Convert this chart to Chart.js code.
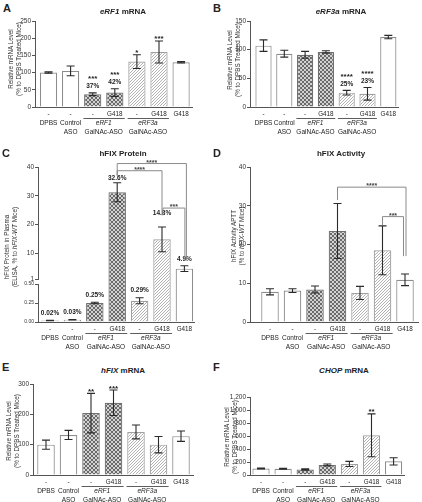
<!DOCTYPE html>
<html>
<head>
<meta charset="utf-8">
<title>eRF1 / eRF3a knockdown and hFIX readthrough</title>
<script src="https://cdn.jsdelivr.net/npm/chart.js@4.4.1/dist/chart.umd.min.js"></script>
<style>
  body { margin: 0; background: #fff; }
  #fig { position: relative; width: 422px; height: 502px; overflow: hidden; font-family: "Liberation Sans", Arial, sans-serif; color: #222; }
  #fig canvas { position: absolute; }
  .letter { position: absolute; font-weight: bold; font-size: 11px; line-height: 11px; }
  .title { position: absolute; font-weight: bold; font-size: 8px; white-space: nowrap; transform: translate(-50%, -50%); }
  .ytitle { position: absolute; font-size: 6.3px; line-height: 8.2px; white-space: nowrap; text-align: center; color: #333; transform: translate(-50%, -50%) rotate(-90deg); }
</style>
</head>
<body>
<div id="fig">
  <canvas id="cA"></canvas>
  <canvas id="cB"></canvas>
  <canvas id="cC"></canvas>
  <canvas id="cD"></canvas>
  <canvas id="cE"></canvas>
  <canvas id="cF"></canvas>

  <div class="letter" style="left:3px;top:3px">A</div>
  <div class="letter" style="left:213px;top:3px">B</div>
  <div class="letter" style="left:2px;top:148px">C</div>
  <div class="letter" style="left:213px;top:148px">D</div>
  <div class="letter" style="left:2px;top:362px">E</div>
  <div class="letter" style="left:213px;top:362px">F</div>

  <div class="title" style="left:123px;top:11px"><i>eRF1</i> mRNA</div>
  <div class="title" style="left:341px;top:11px"><i>eRF3a</i> mRNA</div>
  <div class="title" style="left:123px;top:153px">hFIX Protein</div>
  <div class="title" style="left:341px;top:153px">hFIX Activity</div>
  <div class="title" style="left:123px;top:370px"><i>hFIX</i> mRNA</div>
  <div class="title" style="left:344px;top:370px"><i>CHOP</i> mRNA</div>

  <div class="ytitle" style="left:15px;top:59px">Relative mRNA Level<br>(% to DPBS Treated Mice)</div>
  <div class="ytitle" style="left:233.5px;top:60px">Relative mRNA Level<br>(% to DPBS Treated Mice)</div>
  <div class="ytitle" style="left:11px;top:247px">hFIX Protein in Plasma<br>(ELISA, % to <i>hFIX-WT</i> Mice)</div>
  <div class="ytitle" style="left:238px;top:236px">hFIX Activity APTT<br>(% to <i>hFIX-WT</i> Mice)</div>
  <div class="ytitle" style="left:12.5px;top:431px">Relative mRNA Level<br>(% to DPBS Treated Mice)</div>
  <div class="ytitle" style="left:230.5px;top:437px">Relative mRNA Level<br>(% to DPBS Treated Mice)</div>
</div>

<script>
// treatment groups, one bar each
const barLabels = ["DPBS", "Control ASO", "eRF1 GalNAc-ASO", "eRF1 GalNAc-ASO + G418",
  "eRF3a GalNAc-ASO", "eRF3a GalNAc-ASO + G418", "G418"];
const g418Row = ["-", "-", "-", "G418", "-", "G418", "G418"];
const barKind = ["plain", "plain", "eRF1", "eRF1", "eRF3a", "eRF3a", "plain"];

// A - eRF1 mRNA
const eRF1Mean = [100, 105, 37, 42, 132, 160, 130];
const eRF1Err = [2, 14, 4, 11, 20, 32, 2];
const eRF1Stars = ["", "", "***", "***", "*", "***", ""];
const eRF1Pct = ["", "", "37%", "42%", "", "", ""];

// B - eRF3a mRNA
const eRF3aMean = [107, 93, 91, 96, 25, 23, 122];
const eRF3aErr = [10, 6, 6, 2, 4, 11, 3];
const eRF3aStars = ["", "", "", "", "****", "****", ""];
const eRF3aPct = ["", "", "", "", "25%", "23%", ""];

// C - hFIX protein (broken axis)
const protMean = [0.02, 0.03, 0.25, 31.2, 0.28, 14.8, 4.6];
const protErr = [0.003, 0.003, 0.01, 3.3, 0.04, 4.3, 1.0];
const protPct = ["0.02%", "0.03%", "0.25%", "32.6%", "0.29%", "14.8%", "4.9%"];
const protTopTicks = [1, 10, 20, 30, 40];

// D - hFIX activity
const actMean = [7.8, 8.1, 8.4, 23.5, 7.5, 18.5, 10.9];
const actErr = [0.8, 0.5, 0.9, 7.1, 1.7, 6.3, 1.5];

// E - hFIX mRNA
const hfixMean = [100, 132, 204, 238, 142, 100, 128];
const hfixErr = [15, 15, 65, 42, 23, 27, 17];
const hfixStars = ["", "", "**", "***", "", "", ""];

// F - CHOP mRNA
const chopMean = [100, 97, 85, 155, 170, 610, 210];
const chopErr = [8, 8, 10, 15, 40, 330, 55];
const chopStars = ["", "", "", "", "", "**", ""];

const treatGroups = [
  { bars: [0], line1: "DPBS", line2: "" },
  { bars: [1], line1: "Control", line2: "ASO" },
  { bars: [2, 3], line1: "eRF1", line2: "GalNAc-ASO", italic: true, rule: true },
  { bars: [4, 5], line1: "eRF3a", line2: "GalNAc-ASO", italic: true, rule: true }
];

const FONT = '"Liberation Sans", Arial, sans-serif';
Chart.defaults.font.family = FONT;

function makeFill(kind) {
  if (kind === "plain") return "#ffffff";
  const c = document.createElement("canvas");
  const g = c.getContext("2d");
  if (kind === "eRF1") {
    c.width = c.height = 4;
    g.fillStyle = "#d2d2d2"; g.fillRect(0, 0, 4, 4);
    g.fillStyle = "#6a6a6a";
    for (let k = 0; k < 4; k++) { g.fillRect(k, k, 1, 1); g.fillRect(3 - k, k, 1, 1); }
  } else {
    c.width = c.height = 3;
    g.fillStyle = "#ffffff"; g.fillRect(0, 0, 3, 3);
    g.fillStyle = "#b2b2b2";
    for (let k = 0; k < 3; k++) g.fillRect(2 - k, k, 1, 1);
  }
  return g.createPattern(c, "repeat");
}
const fills = { plain: makeFill("plain"), eRF1: makeFill("eRF1"), eRF3a: makeFill("eRF3a") };
const edges = { plain: "#8c8c8c", eRF1: "#707070", eRF3a: "#a0a0a0" };

const specs = {};

// error bars, stars, brackets and the treatment rows under the x axis
const decor = {
  id: "decor",
  afterDatasetsDraw(chart) {
    const p = specs[chart.canvas.id];
    const ctx = chart.ctx, xs = chart.scales.x;
    const step = xs.getPixelForValue(1) - xs.getPixelForValue(0);
    const b = chart.chartArea.bottom;
    const axisFor = v => p.broken ? (v > 1 ? chart.scales.yTop : chart.scales.yBot) : chart.scales.y;
    ctx.save();
    ctx.textAlign = "center";

    p.mean.forEach((v, i) => {
      const ys = axisFor(v), cx = xs.getPixelForValue(i);
      const top = ys.getPixelForValue(v + p.err[i]);
      const bot = ys.getPixelForValue(v - p.err[i]);
      ctx.strokeStyle = "#2a2a2a"; ctx.lineWidth = 1.1;
      ctx.beginPath();
      ctx.moveTo(cx, top); ctx.lineTo(cx, bot);
      ctx.moveTo(cx - 4, top); ctx.lineTo(cx + 4, top);
      ctx.moveTo(cx - 4, bot); ctx.lineTo(cx + 4, bot);
      ctx.stroke();

      ctx.fillStyle = "#222"; ctx.textBaseline = "alphabetic";
      const pct = p.pct && p.pct[i];
      const stars = p.stars && p.stars[i];
      if (pct) {
        const gap = p.pctGap ? p.pctGap[i] : 7;
        ctx.font = "bold 6.5px " + FONT;
        ctx.fillText(pct, cx, top - gap + 2.3);
        if (stars) { ctx.font = "bold 8px " + FONT; ctx.fillText(stars, cx, top - gap - 4.5); }
      } else if (stars) {
        ctx.font = "bold 8px " + FONT;
        ctx.fillText(stars, cx, top + 0.5);
      }
    });

    (p.brackets || []).forEach(bk => {
      const ys = chart.scales[p.bracketAxis];
      const x1 = xs.getPixelForValue(bk.from) + (bk.dx1 || 0);
      const x2 = xs.getPixelForValue(bk.to) + (bk.dx2 || 0);
      const yl = ys.getPixelForValue(bk.level);
      ctx.strokeStyle = "#8a8a8a"; ctx.lineWidth = 1;
      ctx.beginPath();
      ctx.moveTo(x1, ys.getPixelForValue(bk.drop1));
      ctx.lineTo(x1, yl); ctx.lineTo(x2, yl);
      ctx.lineTo(x2, ys.getPixelForValue(bk.drop2));
      ctx.stroke();
      ctx.fillStyle = "#444"; ctx.font = "bold 7px " + FONT;
      ctx.fillText(bk.label, (x1 + x2) / 2, yl + 1);
    });

    ctx.fillStyle = "#222"; ctx.strokeStyle = "#333"; ctx.lineWidth = 0.8;
    ctx.textBaseline = "middle";
    ctx.font = "6.3px " + FONT;
    g418Row.forEach((t, i) => ctx.fillText(t, xs.getPixelForValue(i), b + 7));
    treatGroups.forEach(g => {
      const xa = xs.getPixelForValue(g.bars[0]);
      const xb = xs.getPixelForValue(g.bars[g.bars.length - 1]);
      const cx = (xa + xb) / 2;
      if (g.rule) {
        ctx.beginPath();
        ctx.moveTo(xa - step * 0.42, b + 11.5); ctx.lineTo(xb + step * 0.45, b + 11.5);
        ctx.stroke();
      }
      ctx.font = (g.italic ? "italic " : "") + "6.5px " + FONT;
      ctx.fillText(g.line1, cx, b + 16.5);
      if (g.line2) { ctx.font = "6.5px " + FONT; ctx.fillText(g.line2, cx, b + 25.5); }
    });
    ctx.restore();
  }
};

function xScale(p) {
  return {
    type: "linear", offset: false,
    min: (p.area.l - p.c0) / p.step, max: (p.area.r - p.c0) / p.step,
    afterBuildTicks: s => { s.ticks = barLabels.map((_, i) => ({ value: i })); },
    ticks: { display: false },
    grid: { display: false, offset: false },
    border: { display: true, color: "#555", width: 1 },
    afterFit: s => { s.height = p.box.y + p.box.h - p.area.b; }
  };
}

function yScale(min, max, step, w, fontSize) {
  return {
    type: "linear", position: "left", min: min, max: max,
    ticks: { stepSize: step, font: { size: fontSize || 6.5 }, color: "#333", padding: 1 },
    grid: { display: true, drawOnChartArea: false, tickLength: 3, color: "#555" },
    border: { display: true, color: "#555", width: 1 },
    afterFit: s => { s.width = w; }
  };
}

function barSet(points, axis, bw) {
  return {
    data: points, yAxisID: axis, grouped: false,
    backgroundColor: barKind.map(k => fills[k]),
    borderColor: barKind.map(k => edges[k]),
    borderWidth: bw, barPercentage: 0.78, categoryPercentage: 1
  };
}

function buildPanel(id, p) {
  specs[id] = p;
  const cv = document.getElementById(id);
  cv.width = p.box.w; cv.height = p.box.h;
  cv.style.left = p.box.x + "px"; cv.style.top = p.box.y + "px";
  const yw = p.area.l - p.box.x;
  const scales = { x: xScale(p) };
  let datasets;
  if (!p.broken) {
    scales.y = yScale(p.y.min, p.y.max, p.y.step, yw);
    datasets = [barSet(p.mean.map((v, i) => ({ x: i, y: v })), "y", 1.2)];
  } else {
    const lim = 0.5;
    const sides = { top: 0, bottom: 0, left: 1.2, right: 1.2 };
    scales.yBot = Object.assign(yScale(0, lim, 0.25, yw, 5), { stack: "brk", stackWeight: 38 });
    scales.yBot.ticks.callback = v => v.toFixed(2);
    scales.yGap = {
      type: "linear", position: "left", min: 0, max: 1, stack: "brk", stackWeight: 5,
      ticks: { display: false }, grid: { display: false }, border: { display: false },
      afterFit: s => { s.width = yw; }
    };
    scales.yTop = Object.assign(yScale(1, 40, 10, yw), { stack: "brk", stackWeight: 112 });
    scales.yTop.afterBuildTicks = s => { s.ticks = protTopTicks.map(v => ({ value: v })); };
    datasets = [
      barSet(p.mean.map((v, i) => ({ x: i, y: Math.min(v, lim) })), "yBot",
        c => p.mean[c.dataIndex] > lim ? sides : 1.2),
      barSet(p.mean.map((v, i) => ({ x: i, y: v > lim ? 1 : null })), "yGap", sides),
      barSet(p.mean.map((v, i) => ({ x: i, y: v > 1 ? [1, v] : null })), "yTop", 1.2)
    ];
  }
  new Chart(cv, {
    type: "bar",
    data: { datasets: datasets },
    options: {
      responsive: false, animation: false, events: [],
      layout: { padding: { left: 0, top: p.area.t - p.box.y, right: p.box.x + p.box.w - p.area.r, bottom: 0 } },
      plugins: { legend: { display: false }, tooltip: { enabled: false } },
      scales: scales
    },
    plugins: [decor]
  });
}

buildPanel("cA", {
  box: { x: 0, y: 14, w: 211, h: 128 }, area: { l: 35, t: 21, r: 192, b: 107 }, c0: 48.5, step: 22.1,
  mean: eRF1Mean, err: eRF1Err, stars: eRF1Stars, pct: eRF1Pct, y: { min: 0, max: 250, step: 50 }
});
buildPanel("cB", {
  box: { x: 211, y: 14, w: 211, h: 128 }, area: { l: 250, t: 21, r: 398, b: 107 }, c0: 263.5, step: 20.8,
  mean: eRF3aMean, err: eRF3aErr, stars: eRF3aStars, pct: eRF3aPct, y: { min: 0, max: 150, step: 50 }
});
buildPanel("cC", {
  box: { x: 0, y: 158, w: 211, h: 195 }, area: { l: 38, t: 167, r: 194, b: 322 }, c0: 50, step: 22.4,
  mean: protMean, err: protErr, pct: protPct, pctGap: [8, 8, 8, 5, 8, 14, 7], broken: true,
  bracketAxis: "yTop",
  brackets: [
    { from: 3, to: 6, label: "****", level: 41.2, drop1: 37, drop2: 7.4, dx2: 2 },
    { from: 3, to: 5, label: "****", level: 38.7, drop1: 37, drop2: 23.2 },
    { from: 5, to: 6, label: "***", level: 25.7, drop1: 23.2, drop2: 7.4, dx1: 1, dx2: 0.5 }
  ]
});
buildPanel("cD", {
  box: { x: 211, y: 158, w: 211, h: 195 }, area: { l: 250, t: 167, r: 418, b: 322 }, c0: 270, step: 22.5,
  mean: actMean, err: actErr, y: { min: 0, max: 40, step: 10 },
  bracketAxis: "y",
  brackets: [
    { from: 3, to: 6, label: "****", level: 34.8, drop1: 31.5, drop2: 17, dx2: 1 },
    { from: 5, to: 6, label: "***", level: 27.2, drop1: 25, drop2: 17, dx2: -1.5 }
  ]
});
buildPanel("cE", {
  box: { x: 0, y: 376, w: 211, h: 126 }, area: { l: 33, t: 384, r: 193, b: 475 }, c0: 46, step: 22.5,
  mean: hfixMean, err: hfixErr, stars: hfixStars, y: { min: 0, max: 300, step: 100 }
});
buildPanel("cF", {
  box: { x: 211, y: 376, w: 211, h: 126 }, area: { l: 250, t: 397, r: 404, b: 475 }, c0: 261, step: 22.1,
  mean: chopMean, err: chopErr, stars: chopStars, y: { min: 0, max: 1200, step: 200 }
});
</script>
</body>
</html>
